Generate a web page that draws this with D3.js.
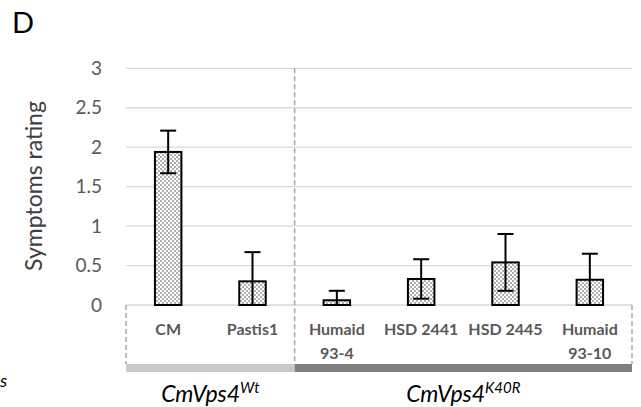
<!DOCTYPE html>
<html>
<head>
<meta charset="utf-8">
<script src="https://cdn.jsdelivr.net/npm/d3@7"></script>
<style>
  body { margin: 0; background: #fff; }
  text { font-family: Lato, "Open Sans", sans-serif; }
</style>
</head>
<body>
<svg width="641" height="407"></svg>
<script>
// data
var categories = ["CM", "Pastis1", "Humaid 93-4", "HSD 2441", "HSD 2445", "Humaid 93-10"];
var catLines = [["CM"], ["Pastis1"], ["Humaid", "93-4"], ["HSD 2441"], ["HSD 2445"], ["Humaid", "93-10"]];
var means = [1.94, 0.30, 0.06, 0.33, 0.54, 0.32];
var errors = [0.27, 0.37, 0.12, 0.25, 0.36, 0.33];
var groups = [
  {name: "CmVps4", sup: "Wt", from: 0, to: 2, color: "#c9c9c9"},
  {name: "CmVps4", sup: "K40R", from: 2, to: 6, color: "#7f7f7f"}
];
var yTicks = [0, 0.5, 1, 1.5, 2, 2.5, 3];

var svg = d3.select("svg");
var plotLeft = 126, plotRight = 632, plotTop = 68.3, plotBottom = 305;

var x = d3.scaleBand().domain(categories).range([plotLeft, plotRight]).paddingInner(0.686).paddingOuter(0.343);
var y = d3.scaleLinear().domain([0, 3]).range([plotBottom, plotTop]);

// checker pattern like the excel fill
var defs = svg.append("defs");
var pat = defs.append("pattern")
  .attr("id", "checker")
  .attr("width", 4).attr("height", 4)
  .attr("patternUnits", "userSpaceOnUse");
pat.append("rect").attr("width", 4).attr("height", 4).attr("fill", "#fff");
pat.append("rect").attr("width", 2).attr("height", 2).attr("fill", "#b0b0b0");
pat.append("rect").attr("x", 2).attr("y", 2).attr("width", 2).attr("height", 2).attr("fill", "#b0b0b0");

svg.append("text")
  .attr("x", 12).attr("y", 33)
  .style("font-size", "29px")
  .text("D");

// gridlines
svg.append("g").selectAll("line")
  .data(yTicks)
  .enter().append("line")
  .attr("x1", plotLeft).attr("x2", plotRight)
  .attr("y1", function(d) { return y(d); })
  .attr("y2", function(d) { return y(d); })
  .attr("stroke", "#d9d9d9")
  .attr("stroke-width", 1.3);

var yAxis = d3.axisLeft(y).tickValues(yTicks).tickSize(0).tickPadding(24)
  .tickFormat(function(d) { return d; });
var gy = svg.append("g").attr("transform", "translate(" + plotLeft + ",0)").call(yAxis);
gy.select(".domain").remove();
gy.selectAll("text")
  .style("font-size", "19px")
  .style("font-family", "Lato, sans-serif")
  .attr("fill", "#595959");

svg.append("text")
  .attr("transform", "translate(42,186) rotate(-90)")
  .attr("text-anchor", "middle")
  .attr("fill", "#404040")
  .style("font-size", "23px")
  .text("Symptoms rating");

// category box (dashed)
var boxBottom = 364;
var dash = "5,3";
[plotLeft, plotRight].forEach(function(px) {
  svg.append("line")
    .attr("x1", px).attr("x2", px).attr("y1", plotBottom).attr("y2", boxBottom)
    .attr("stroke", "#a6a6a6").attr("stroke-width", 1.5).attr("stroke-dasharray", dash);
});

var step = x.step();
var groupX = function(i) { return plotLeft + step * i; };

svg.append("g").selectAll("line")
  .data(groups.slice(1))
  .enter().append("line")
  .attr("x1", function(d) { return groupX(d.from); })
  .attr("x2", function(d) { return groupX(d.from); })
  .attr("y1", plotTop).attr("y2", boxBottom)
  .attr("stroke", "#a6a6a6").attr("stroke-width", 1.5).attr("stroke-dasharray", dash);

// bars
svg.append("g").selectAll("rect")
  .data(means)
  .enter().append("rect")
  .attr("x", function(d, i) { return x(categories[i]); })
  .attr("y", function(d) { return y(d); })
  .attr("width", x.bandwidth())
  .attr("height", function(d) { return plotBottom - y(d); })
  .attr("fill", "url(#checker)")
  .attr("stroke", "#000")
  .attr("stroke-width", 2);

// error bars
var eb = svg.append("g").attr("stroke", "#000").attr("stroke-width", 2);
means.forEach(function(m, i) {
  var cx = x(categories[i]) + x.bandwidth() / 2;
  var hi = y(m + errors[i]), lo = y(Math.max(0, m - errors[i]));
  eb.append("line").attr("x1", cx).attr("x2", cx).attr("y1", hi).attr("y2", lo);
  eb.append("line").attr("x1", cx - 8).attr("x2", cx + 8).attr("y1", hi).attr("y2", hi);
  eb.append("line").attr("x1", cx - 8).attr("x2", cx + 8).attr("y1", lo).attr("y2", lo);
});

// category labels
var cl = svg.append("g").selectAll("text")
  .data(catLines)
  .enter().append("text")
  .attr("text-anchor", "middle")
  .attr("fill", "#595959")
  .style("font-size", "16px")
  .style("font-weight", "bold");
cl.each(function(lines, i) {
  var cx = x(categories[i]) + x.bandwidth() / 2;
  d3.select(this).selectAll("tspan")
    .data(lines)
    .enter().append("tspan")
    .attr("x", cx)
    .attr("y", function(d, j) { return 335 + j * 24; })
    .text(function(d) { return d; });
});

// group bars and labels
svg.append("g").selectAll("rect")
  .data(groups)
  .enter().append("rect")
  .attr("x", function(d) { return groupX(d.from); })
  .attr("width", function(d) { return groupX(d.to) - groupX(d.from); })
  .attr("y", boxBottom).attr("height", 8)
  .attr("fill", function(d) { return d.color; });

var gl = svg.append("g").selectAll("text")
  .data(groups)
  .enter().append("text")
  .attr("x", function(d) { return (groupX(d.from) + groupX(d.to)) / 2; })
  .attr("y", 402)
  .attr("text-anchor", "middle")
  .style("font-size", "23px")
  .style("font-style", "italic");
gl.append("tspan").text(function(d) { return d.name; });
gl.append("tspan").attr("dy", -9).style("font-size", "15px").text(function(d) { return d.sup; });

// stray letter at far left
svg.append("text")
  .attr("x", 0).attr("y", 387)
  .style("font-size", "18px")
  .style("font-style", "italic")
  .text("s");
</script>
</body>
</html>
